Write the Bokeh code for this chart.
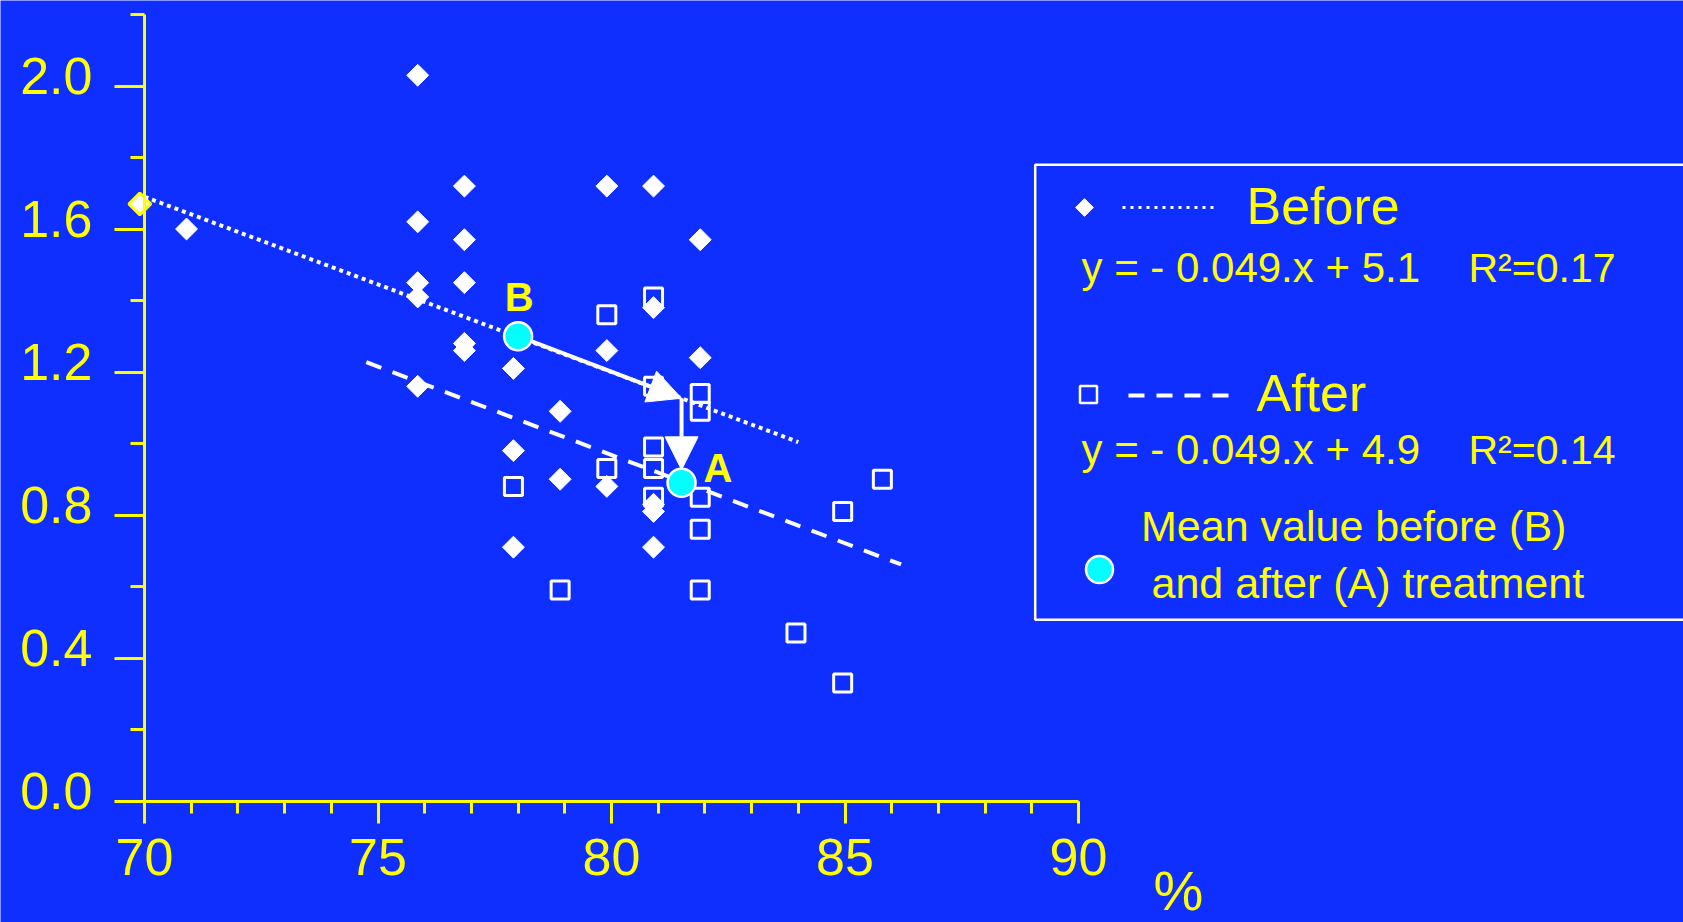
import numpy as np
from bokeh.plotting import figure
from bokeh.models import (Range1d, LinearAxis, FixedTicker, CustomJSTickFormatter,
                          Arrow, NormalHead)
from bokeh.core.properties import value
from bokeh.embed import file_html
from bokeh.resources import INLINE

# ---- data -------------------------------------------------------------
before_x = [69.9, 70.9, 75.85, 75.85, 75.85, 75.85, 75.85, 76.85, 76.85, 76.85, 76.85,
            76.85, 77.9, 77.9, 77.9, 78.9, 78.9, 79.9, 79.9, 79.9, 80.9, 80.9, 80.9,
            80.9, 80.9, 81.9, 81.9]
before_y = [1.67, 1.60, 2.03, 1.62, 1.45, 1.41, 1.16, 1.72, 1.57, 1.45, 1.28, 1.26,
            1.21, 0.98, 0.71, 1.09, 0.90, 1.72, 1.26, 0.88, 1.72, 1.38, 0.83, 0.81,
            0.71, 1.57, 1.24]

after_x = [77.9, 78.9, 79.9, 79.9, 80.9, 80.9, 80.9, 80.9, 80.9, 81.9, 81.9, 81.9,
           81.9, 81.9, 83.95, 84.95, 84.95, 85.8]
after_y = [0.88, 0.59, 1.36, 0.93, 1.41, 1.16, 0.99, 0.93, 0.85, 1.14, 1.09, 0.85,
           0.76, 0.59, 0.47, 0.81, 0.33, 0.90]

# regression lines: slope, intercept, x extent
before_fit = [-0.049, 5.12]
before_span = [70, 84]
before_r2 = 0.17
after_fit = [-0.0494, 4.92]
after_span = [74.75, 86.2]
after_r2 = 0.14

# mean values before (B) and after (A) treatment
mean_x = [78.0, 81.5]
mean_y = [1.30, 0.89]
mean_names = ["B", "A"]

x_major = [70, 75, 80, 85, 90]
x_minor = list(range(70, 91))
y_major = [0.0, 0.4, 0.8, 1.2, 1.6, 2.0]
y_minor = [0.2, 0.6, 1.0, 1.4, 1.8, 2.2]

# ---- styling / geometry ------------------------------------------------
BG = "#0E2FFF"
YEL = "#FFFF00"
CYAN = "#00FFFF"
FONT = value("Liberation Sans")

W, H = 1683, 922
PX70, SX = 144.0, 46.7      # canvas x of the value 70, pixels per unit
PY0, SY = 800.5, 357.5      # canvas y of the value 0, pixels per unit
TXT = 16                    # baseline correction for text glyphs, px


def ux(px):
    return 70 + (px - PX70) / SX


def uy(py):
    return (PY0 - py) / SY


def ty(py):
    # y position for a text baseline at canvas row py
    return uy(py - TXT)


p = figure(width=W, height=H, output_backend="svg", toolbar_location=None,
           x_range=Range1d(ux(0), ux(W)), y_range=Range1d(uy(H), uy(0)),
           x_axis_type=None, y_axis_type=None,
           min_border=0, min_border_left=0, min_border_right=0,
           min_border_top=0, min_border_bottom=0)
p.background_fill_color = BG
p.border_fill_color = BG
p.outline_line_color = None

# ---- axes ---------------------------------------------------------------
xaxis = LinearAxis(fixed_location=0, bounds=(70, 90),
                   ticker=FixedTicker(ticks=x_major, minor_ticks=x_minor))
xaxis.axis_line_color = YEL
xaxis.axis_line_width = 3
xaxis.major_tick_line_color = YEL
xaxis.major_tick_line_width = 3
xaxis.major_tick_out = 22
xaxis.major_tick_in = 0
xaxis.minor_tick_line_color = YEL
xaxis.minor_tick_line_width = 3
xaxis.minor_tick_out = 12
xaxis.minor_tick_in = 0
xaxis.major_label_text_color = YEL
xaxis.major_label_text_font = "Liberation Sans"
xaxis.major_label_text_font_size = "52px"
xaxis.major_label_standoff = 16
p.add_layout(xaxis, "below")

yaxis = LinearAxis(fixed_location=70, bounds=(0, 2.2),
                   ticker=FixedTicker(ticks=y_major, minor_ticks=y_minor),
                   formatter=CustomJSTickFormatter(code="return '';"))
yaxis.axis_line_color = YEL
yaxis.axis_line_width = 3
yaxis.major_tick_line_color = YEL
yaxis.major_tick_line_width = 3
yaxis.major_tick_out = 30
yaxis.major_tick_in = 0
yaxis.minor_tick_line_color = YEL
yaxis.minor_tick_line_width = 3
yaxis.minor_tick_out = 14
yaxis.minor_tick_in = 0
p.add_layout(yaxis, "left")

# tick labels of the value axis sit a little above their ticks
shift = 10 / SY
ylabels = LinearAxis(fixed_location=70, bounds=(0, 2.3),
                     ticker=FixedTicker(ticks=[v + shift for v in y_major], minor_ticks=[]),
                     formatter=CustomJSTickFormatter(args=dict(shift=shift),
                                                     code="return (tick - shift).toFixed(1);"))
ylabels.axis_line_color = None
ylabels.major_tick_line_color = None
ylabels.minor_tick_line_color = None
ylabels.major_tick_out = 0
ylabels.major_tick_in = 0
ylabels.major_label_standoff = 52
ylabels.major_label_text_color = YEL
ylabels.major_label_text_font = "Liberation Sans"
ylabels.major_label_text_font_size = "52px"
p.add_layout(ylabels, "left")

# ---- scatter ------------------------------------------------------------
# a point sitting on the value axis gets a yellow rim
rim_color = [YEL if x < 70 else "white" for x in before_x]
rim_width = [3 if x < 70 else 1 for x in before_x]
p.scatter(before_x, before_y, marker="square", angle=np.pi / 4, size=15.5,
          fill_color="white", line_color=rim_color, line_width=rim_width)
p.scatter(after_x, after_y, marker="square", size=18,
          fill_color=None, line_color="white", line_width=3)

# ---- regression lines ---------------------------------------------------
bx = np.array(before_span, dtype=float)
p.line(bx, before_fit[0] * bx + before_fit[1], line_color="white",
       line_width=4, line_dash="4 4")
ax = np.array(after_span, dtype=float)
p.line(ax, after_fit[0] * ax + after_fit[1], line_color="white",
       line_width=4, line_dash="16 12")

# ---- arrows B -> A ------------------------------------------------------
corner_x = mean_x[1]
corner_y = before_fit[0] * corner_x + before_fit[1]
r_px = 14.0
dxp = (corner_x - mean_x[0]) * SX
dyp = (corner_y - mean_y[0]) * SY
ln = np.hypot(dxp, dyp)
start_x = mean_x[0] + r_px * dxp / ln / SX
start_y = mean_y[0] + r_px * dyp / ln / SY

p.add_layout(Arrow(end=NormalHead(size=33, fill_color="white", line_color="white", line_width=1),
                   x_start=start_x, y_start=start_y, x_end=corner_x, y_end=corner_y,
                   line_color="white", line_width=4))
p.add_layout(Arrow(end=NormalHead(size=33, fill_color="white", line_color="white", line_width=1),
                   x_start=corner_x, y_start=corner_y, x_end=mean_x[1], y_end=mean_y[1] + 13 / SY,
                   line_color="white", line_width=4))

p.scatter(mean_x, mean_y, marker="circle", size=28, fill_color=CYAN,
          line_color="white", line_width=2.5)

# point labels B and A
p.text([mean_x[0] + 1 / SX], [mean_y[0] + (23 + TXT) / SY], text=[mean_names[0]],
       text_color=YEL, text_font=FONT, text_font_style="bold",
       text_font_size="40px", text_align="center", text_baseline="alphabetic")
p.text([mean_x[1] + 22 / SX], [mean_y[1] + (TXT - 1) / SY], text=[mean_names[1]],
       text_color=YEL, text_font=FONT, text_font_style="bold",
       text_font_size="40px", text_align="left", text_baseline="alphabetic")

# unit of the x axis
p.text([ux(1153)], [ty(906)], text=["%"], text_color=YEL, text_font=FONT,
       text_font_size="56px", text_align="left", text_baseline="alphabetic")

# ---- key box --------------------------------------------------------------
p.quad(left=[ux(1034.7)], right=[ux(1720)], top=[uy(164.2)], bottom=[uy(619.3)],
       fill_color=None, line_color="white", line_width=2.5)

p.scatter([ux(1084)], [uy(207)], marker="square", angle=np.pi / 4, size=12.5,
          fill_color="white", line_color="white", line_width=1)
p.line([ux(1122), ux(1216)], [uy(207), uy(207)], line_color="white",
       line_width=3, line_dash="3 5")
p.scatter([ux(1088)], [uy(394)], marker="square", size=17,
          fill_color=None, line_color="white", line_width=2.5)
p.line([ux(1128), ux(1228)], [uy(395), uy(395)], line_color="white",
       line_width=4, line_dash="16 12")
p.scatter([ux(1099)], [uy(569)], marker="circle", size=27, fill_color=CYAN,
          line_color="white", line_width=2.5)


def eq(fit):
    return "y = - {:.3f}.x + {:.1f}".format(abs(fit[0]), fit[1])


p.text([ux(1246), ux(1256)], [ty(221.7), ty(408.3)], text=["Before", "After"],
       text_color=YEL, text_font=FONT, text_font_size="52px",
       text_align="left", text_baseline="alphabetic")
p.text([ux(1081), ux(1081)], [ty(283.3), ty(465)],
       text=[eq(before_fit), eq(after_fit)],
       text_color=YEL, text_font=FONT, text_font_size="42px",
       text_align="left", text_baseline="alphabetic")
p.text([ux(1468), ux(1468)], [ty(283.3), ty(465)],
       text=["R\u00b2={:.2f}".format(before_r2), "R\u00b2={:.2f}".format(after_r2)],
       text_color=YEL, text_font=FONT, text_font_size="41px",
       text_align="left", text_baseline="alphabetic")
p.text([ux(1140.5), ux(1151)], [ty(541.7), ty(598.3)],
       text=["Mean value before (B)", "and after (A) treatment"],
       text_color=YEL, text_font=FONT, text_font_size="43px",
       text_align="left", text_baseline="alphabetic")

open("out.html", "w").write(file_html(p, INLINE))
